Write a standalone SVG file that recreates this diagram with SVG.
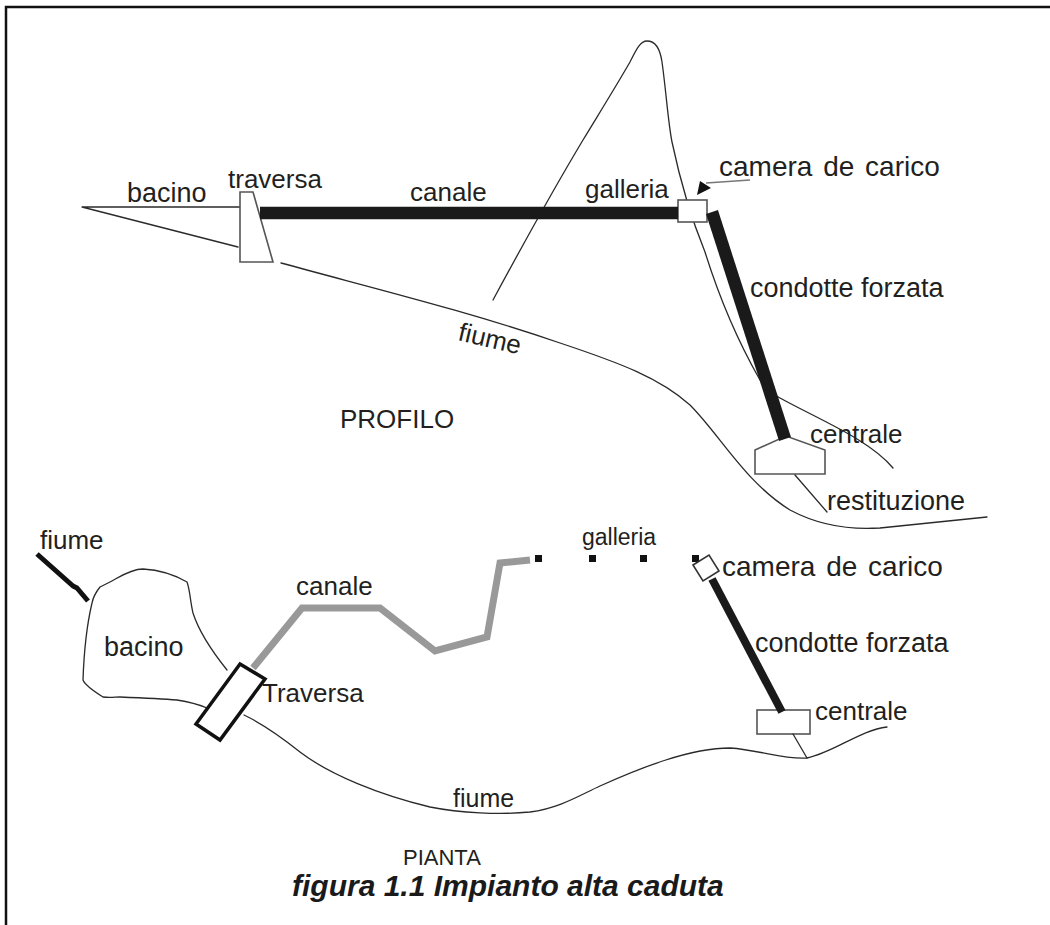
<svg xmlns="http://www.w3.org/2000/svg" width="1050" height="925" viewBox="0 0 1050 925">
  <style>
    .lbl { font-family: "Liberation Sans", Arial, sans-serif; font-size: 26px; fill: #231f20; }
    .thin { fill: none; stroke: #2a2a2a; stroke-width: 1.3; stroke-linecap: round; stroke-linejoin: round; }
    .box { fill: #ffffff; stroke: #555555; stroke-width: 1.6; }
    .pipe { fill: none; stroke: #1a1a1a; stroke-linecap: butt; }
    .cap { font-family: "Liberation Sans", Arial, sans-serif; font-size: 30px; font-weight: bold; font-style: italic; fill: #1a1a1a; }
  </style>
  <rect width="1050" height="925" fill="#ffffff"/>

  <!-- frame -->
  <g id="frame" fill="none" stroke="#111111" stroke-width="2.5">
    <path d="M6,925 L6,7 L1050,7"/>
  </g>

  <!-- ===== PROFILO (section) ===== -->
  <g id="profile-terrain">
    <!-- reservoir wedge -->
    <path class="thin" d="M82,207 L240,207 M82,207 L238,247"/>
    <!-- river bed downstream -->
    <path class="thin" d="M281,263 C380,290 470,312 560,343 C620,363 660,378 690,405 C720,435 745,482 790,510 C820,526 850,530 880,528 L987,517"/>
    <!-- mountain -->
    <path class="thin" d="M493,300 C520,250 550,195 583,140 C600,112 615,88 630,62 C636,50 640,41 647,41 C655,41 660,48 662,62 C666,90 668,122 672,142 C680,180 692,220 705,252 C720,300 740,345 760,380 C765,388 772,394 780,398 C820,420 870,440 893,468"/>
  </g>

  <g id="profile-traversa">
    <polygon class="box" points="240,192 253,192 273,262 240,262"/>
  </g>

  <g id="profile-camera">
    <rect class="box" x="678" y="200" width="29" height="22"/>
  </g>

  <g id="profile-centrale">
    <polygon class="box" points="755,474 755,450 786,436 825,450 825,474"/>
  </g>

  <g id="profile-connectors">
    <!-- canale -->
    <line class="pipe" x1="260" y1="213" x2="678" y2="213" stroke-width="12.5"/>
    <!-- condotta forzata -->
    <line class="pipe" x1="712" y1="212" x2="785" y2="439" stroke-width="12.5"/>
    <!-- restituzione -->
    <line class="thin" x1="795" y1="475" x2="827" y2="512"/>
    <!-- leader to camera de carico -->
    <line x1="706" y1="183" x2="750" y2="180" stroke="#777777" stroke-width="1.5"/>
    <polygon points="697,195 700,181 711,188" fill="#111111"/>
  </g>

  <g id="profile-labels">
    <text class="lbl" x="127" y="202" style="font-size:27px">bacino</text>
    <text class="lbl" x="228" y="188">traversa</text>
    <text class="lbl" x="410" y="201">canale</text>
    <text class="lbl" x="585" y="198">galleria</text>
    <text class="lbl" x="719" y="176" style="font-size:28px;word-spacing:3px">camera de carico</text>
    <text class="lbl" x="750" y="297" style="font-size:27px">condotte forzata</text>
    <text class="lbl" transform="translate(457,340) rotate(13)">fiume</text>
    <text class="lbl" x="340" y="428">PROFILO</text>
    <text class="lbl" x="810" y="443">centrale</text>
    <text class="lbl" x="827" y="510" style="font-size:27px">restituzione</text>
  </g>

  <!-- ===== PIANTA (plan) ===== -->
  <g id="plan-river-upstream">
    <path d="M37,554 L73,586 L77,588 L88,601" fill="none" stroke="#111111" stroke-width="5" stroke-linejoin="round"/>
  </g>

  <g id="plan-bacino">
    <path class="thin" d="M227,670 C215,655 200,635 193,613 C190,600 190,590 187,582 C175,575 160,570 143,569 C130,569 118,578 110,582 L100,587 C96,592 93,598 92,603 C88,620 84,650 83,680 C85,685 95,692 103,697 C110,698 115,697 120,697 C145,698 165,699 177,700 C190,702 200,705 207,708"/>
  </g>

  <g id="plan-traversa">
    <polygon points="240,664 265,679 220,740 196,724" fill="#ffffff" stroke="#111111" stroke-width="3.5" stroke-linejoin="miter"/>
  </g>

  <g id="plan-river">
    <path class="thin" d="M244,715 C265,725 285,740 300,752 C330,775 380,795 430,807 C460,813 500,815 530,812 C560,808 580,795 600,786 C640,768 690,748 730,748 C760,750 785,760 807,758 C835,752 860,730 887,727" stroke-width="1.6"/>
  </g>

  <g id="plan-galleria">
    <rect x="535" y="555" width="7" height="7" fill="#111111"/>
    <rect x="589" y="555" width="7" height="7" fill="#111111"/>
    <rect x="640" y="555" width="7" height="7" fill="#111111"/>
    <rect x="692" y="555" width="7" height="7" fill="#111111"/>
  </g>

  <g id="plan-camera">
    <polygon points="693,565 709,555 719,571 703,581" fill="#ffffff" stroke="#333333" stroke-width="1.6"/>
  </g>

  <g id="plan-centrale">
    <rect class="box" x="757" y="710" width="53" height="24"/>
  </g>

  <g id="plan-connectors">
    <!-- canale -->
    <polyline points="253,668 302,608 380,608 435,651 487,637 500,563 530,560" fill="none" stroke="#999999" stroke-width="7" stroke-linejoin="miter"/>
    <!-- condotta forzata -->
    <line class="pipe" x1="712" y1="579" x2="782" y2="712" stroke-width="8"/>
    <!-- restituzione -->
    <line class="thin" x1="793" y1="734" x2="807" y2="758"/>
  </g>

  <g id="plan-labels">
    <text class="lbl" x="40" y="549">fiume</text>
    <text class="lbl" x="104" y="656" style="font-size:27px">bacino</text>
    <text class="lbl" x="296" y="595">canale</text>
    <text class="lbl" x="262" y="702">Traversa</text>
    <text class="lbl" x="582" y="545" style="font-size:23px">galleria</text>
    <text class="lbl" x="722" y="576" style="font-size:28px;word-spacing:3px">camera de carico</text>
    <text class="lbl" x="755" y="652" style="font-size:27px">condotte forzata</text>
    <text class="lbl" x="815" y="720">centrale</text>
    <text class="lbl" x="453" y="807" style="font-size:25px">fiume</text>
    <text class="lbl" x="403" y="865" style="font-size:22px">PIANTA</text>
  </g>

  <g id="caption">
    <text class="cap" x="292" y="896">figura 1.1 Impianto alta caduta</text>
  </g>
</svg>
